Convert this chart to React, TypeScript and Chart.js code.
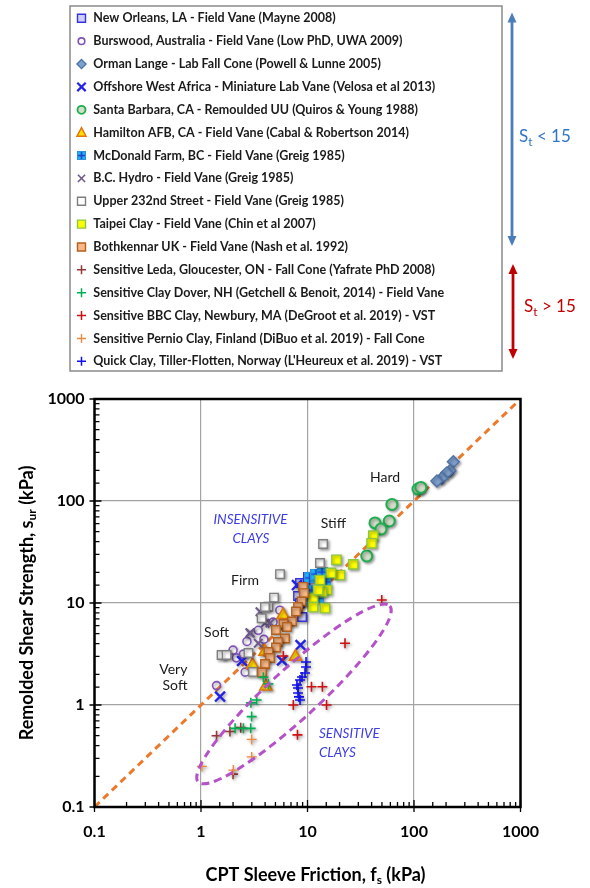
import React, { useEffect, useRef } from 'react';
import { Chart, registerables } from 'chart.js';

Chart.register(...registerables);

// ---------- tick labels ----------
const xTickValues = [0.1, 1, 10, 100, 1000];
const xTickLabels = ['0.1', '1', '10', '100', '1000'];
const yTickValues = [0.1, 1, 10, 100, 1000];
const yTickLabels = ['0.1', '1', '10', '100', '1000'];

// ---------- legend labels ----------
const seriesNames = [
  'New Orleans, LA - Field Vane (Mayne 2008)',
  'Burswood, Australia - Field Vane (Low PhD, UWA 2009)',
  'Orman Lange - Lab Fall Cone (Powell & Lunne 2005)',
  'Offshore West Africa - Miniature Lab Vane (Velosa et al 2013)',
  'Santa Barbara, CA - Remoulded UU (Quiros & Young 1988)',
  'Hamilton AFB, CA - Field Vane (Cabal & Robertson 2014)',
  'McDonald Farm, BC - Field Vane (Greig 1985)',
  'B.C. Hydro - Field Vane (Greig 1985)',
  'Upper 232nd Street - Field Vane (Greig 1985)',
  'Taipei Clay - Field Vane (Chin et al 2007)',
  'Bothkennar UK - Field Vane (Nash et al. 1992)',
  'Sensitive Leda, Gloucester, ON - Fall Cone (Yafrate PhD 2008)',
  'Sensitive Clay Dover, NH (Getchell & Benoit, 2014) - Field Vane',
  'Sensitive BBC Clay, Newbury, MA (DeGroot et al. 2019) - VST',
  'Sensitive Pernio Clay, Finland (DiBuo et al. 2019) - Fall Cone',
  "Quick Clay, Tiller-Flotten, Norway (L'Heureux et al. 2019) - VST",
];

// ---------- data: fs (kPa) and s_ur (kPa) ----------
const newOrleansFs = [8.5, 10.1, 8.15, 8.5, 8.9, 9.5, 11.5];
const newOrleansSu = [15.7, 18.0, 11.7, 10.0, 7.3, 13.4, 15.0];

const burswoodFs = [5.5, 4.75, 3.9, 3.45, 2.7, 2.0, 2.5, 2.15, 2.6, 1.4];
const burswoodSu = [8.5, 6.5, 4.4, 5.4, 4.2, 3.45, 3.15, 2.9, 2.1, 1.55];

const ormanFs = [234, 218, 203, 182, 164];
const ormanSu = [243, 198, 189, 167, 157];

const offshoreFs = [7.96, 8.6, 5.77, 2.43, 1.51];
const offshoreSu = [15.0, 3.87, 2.73, 2.7, 1.21];

const santaBarbaraFs = [109, 116, 62, 43, 58.6, 49, 36];
const santaBarbaraSu = [131, 136, 92.5, 61, 63.7, 53, 28.9];

const hamiltonFs = [5.89, 3.99, 3.05, 7.71, 4.07];
const hamiltonSu = [7.63, 3.34, 2.47, 2.98, 1.52];

const mcdonaldFs = [10.5, 12.0, 11.0, 12.6, 10.1, 14.9, 13.7];
const mcdonaldSu = [17.6, 19.2, 13.4, 11.2, 10.7, 16.1, 20.1];

const bcHydroFs = [3.58, 2.88, 2.9, 3.45, 3.99, 4.45];
const bcHydroSu = [8.22, 5.12, 5.05, 4.03, 6.32, 6.37];

const upper232Fs = [14.0, 13.1, 5.52, 4.85, 4.3, 3.99, 3.71, 2.79, 1.56, 1.74, 3.08];
const upper232Su = [37.9, 24.7, 19.2, 11.3, 9.2, 9.15, 7.08, 3.24, 3.09, 3.09, 2.11];

const taipeiFs = [41.5, 40, 26.9, 18.7, 20.2, 16.6, 13.1, 15.2, 13.7, 11.3, 11.3, 14.6, 12.6];
const taipeiSu = [45.7, 38.5, 23.9, 26.5, 18.8, 19.7, 16.8, 13.4, 12.8, 11.2, 9.1, 8.9, 13.4];

const bothkennarFs = [9.08, 9.27, 8.79, 8.15, 7.8, 7.15, 5.95, 6.42, 5.06, 6.15, 5.28, 5.06, 4.3, 4.45, 3.99, 3.74];
const bothkennarSu = [14.4, 12.5, 10.35, 9.14, 8.26, 6.59, 6.22, 5.82, 5.43, 4.49, 4.15, 3.66, 3.31, 2.89, 2.52, 2.08];

const ledaFs = [1.4, 1.87, 2.36, 2.0];
const ledaSu = [0.5, 0.55, 0.6, 0.21];

const doverFs = [2.94, 3.33, 2.99, 2.09, 2.5, 2.93, 3.85, 4.29];
const doverSu = [1.05, 1.12, 0.77, 0.59, 0.59, 0.59, 1.87, 1.61];

const bbcFs = [5.93, 22.5, 7.36, 10.9, 13.8, 15.1, 8.05, 49.8];
const bbcSu = [3.02, 4.03, 1.0, 1.51, 1.51, 1.0, 0.51, 10.7];

const pernioFs = [1.02, 2.01, 2.99, 2.99];
const pernioSu = [0.25, 0.23, 0.46, 0.31];

const quickClayFs = [9.69, 9.69, 9.48, 8.88, 8.51, 7.96, 8.15, 8.15, 8.32, 8.51];
const quickClaySu = [2.64, 2.36, 2.06, 1.88, 1.76, 1.57, 1.47, 1.31, 1.2, 1.12];

// 1:1 line
const oneToOneFs = [0.1, 1000];
const oneToOneSu = [0.1, 1000];

// sensitive-clay ellipse: end points of major axis (fs, s_ur)
const ellipseTipA = [59.3, 9.35];
const ellipseTipB = [0.94, 0.176];

// consistency labels
const zoneTexts = ['Hard', 'Stiff', 'Firm', 'Soft', 'Very', 'Soft'];
const zoneFs = [53.5, 17.5, 2.59, 1.4, 0.55, 0.57];
const zoneSu = [170, 59.6, 16.6, 5.16, 2.24, 1.55];

const insensitiveTexts = ['INSENSITIVE', 'CLAYS'];
const insensitiveFs = [2.92, 2.94];
const insensitiveSu = [66.2, 42.4];

const sensitiveTexts = ['SENSITIVE', 'CLAYS'];
const sensitiveFs = [12.8, 12.8];
const sensitiveSu = [0.528, 0.344];

// ---------- styles ----------
type Sty = { kind: string; r: number; fill: string; stroke: string; lw: number; lr: number; llw: number };
const styles: Sty[] = [
  { kind: 'rect', r: 6, fill: '#CFCFF7', stroke: '#3535E0', lw: 1.4, lr: 4, llw: 1.4 },
  { kind: 'circle', r: 4, fill: 'rgba(255,255,255,0)', stroke: '#8052B8', lw: 1.6, lr: 3.3, llw: 1.6 },
  { kind: 'rectRot', r: 6, fill: '#7FA1CF', stroke: '#4E73A6', lw: 1.3, lr: 4.6, llw: 1.3 },
  { kind: 'crossRot', r: 7, fill: '#2323E6', stroke: '#2323E6', lw: 2.4, lr: 4.2, llw: 2.2 },
  { kind: 'circle', r: 5.5, fill: '#D3DEC9', stroke: '#1EAE4F', lw: 2, lr: 4, llw: 1.8 },
  { kind: 'triangle', r: 7, fill: '#FFE100', stroke: '#E2760F', lw: 1.6, lr: 5, llw: 1.5 },
  { kind: 'image', r: 6, fill: '#1EB4F0', stroke: '#1F3FD0', lw: 1.2, lr: 4, llw: 1.2 },
  { kind: 'crossRot', r: 6, fill: '#6E5A8C', stroke: '#6E5A8C', lw: 2, lr: 3.6, llw: 1.6 },
  { kind: 'rect', r: 6, fill: '#FFFFFF', stroke: '#7F7F7F', lw: 1.4, lr: 4, llw: 1.4 },
  { kind: 'rect', r: 6.6, fill: '#FFFF00', stroke: '#8CC83C', lw: 1.4, lr: 4, llw: 1.4 },
  { kind: 'rect', r: 6, fill: '#F8B888', stroke: '#B4601C', lw: 1.4, lr: 4, llw: 1.4 },
  { kind: 'cross', r: 5, fill: '#953735', stroke: '#953735', lw: 1.6, lr: 4.5, llw: 1.5 },
  { kind: 'cross', r: 5, fill: '#00B050', stroke: '#00B050', lw: 1.6, lr: 4.5, llw: 1.5 },
  { kind: 'cross', r: 5, fill: '#D01010', stroke: '#D01010', lw: 1.6, lr: 4.5, llw: 1.5 },
  { kind: 'cross', r: 5, fill: '#F08A40', stroke: '#F08A40', lw: 1.4, lr: 4.5, llw: 1.4 },
  { kind: 'cross', r: 5, fill: '#1010F0', stroke: '#1010F0', lw: 1.6, lr: 4.5, llw: 1.5 },
];

const seriesFs = [newOrleansFs, burswoodFs, ormanFs, offshoreFs, santaBarbaraFs, hamiltonFs, mcdonaldFs, bcHydroFs,
  upper232Fs, taipeiFs, bothkennarFs, ledaFs, doverFs, bbcFs, pernioFs, quickClayFs];
const seriesSu = [newOrleansSu, burswoodSu, ormanSu, offshoreSu, santaBarbaraSu, hamiltonSu, mcdonaldSu, bcHydroSu,
  upper232Su, taipeiSu, bothkennarSu, ledaSu, doverSu, bbcSu, pernioSu, quickClaySu];

const FONT = 'Lato, "Open Sans", "DejaVu Sans", sans-serif';

function isMajor(v: number) {
  const l = Math.log10(v);
  return Math.abs(l - Math.round(l)) < 1e-6;
}

function makeMcdImage(size: number) {
  const c = document.createElement('canvas');
  c.width = size; c.height = size;
  const g = c.getContext('2d')!;
  g.fillStyle = '#1EB4F0';
  g.fillRect(0.5, 0.5, size - 1, size - 1);
  g.strokeStyle = '#2E8FE0';
  g.lineWidth = 1;
  g.strokeRect(0.5, 0.5, size - 1, size - 1);
  g.strokeStyle = '#1F3FD0';
  g.lineWidth = 1.6;
  g.beginPath();
  g.moveTo(size / 2, 1); g.lineTo(size / 2, size - 1);
  g.moveTo(1, size / 2); g.lineTo(size - 1, size / 2);
  g.stroke();
  return c;
}

function drawMarker(ctx: CanvasRenderingContext2D, s: Sty, x: number, y: number, img?: HTMLCanvasElement) {
  const r = s.lr;
  ctx.save();
  ctx.fillStyle = s.fill;
  ctx.strokeStyle = s.stroke;
  ctx.lineWidth = s.llw;
  ctx.beginPath();
  switch (s.kind) {
    case 'rect':
      ctx.rect(x - r, y - r, 2 * r, 2 * r); ctx.fill(); ctx.stroke(); break;
    case 'circle':
      ctx.arc(x, y, r, 0, Math.PI * 2); ctx.fill(); ctx.stroke(); break;
    case 'rectRot':
      ctx.moveTo(x, y - r); ctx.lineTo(x + r, y); ctx.lineTo(x, y + r); ctx.lineTo(x - r, y); ctx.closePath();
      ctx.fill(); ctx.stroke(); break;
    case 'triangle':
      ctx.moveTo(x, y - r); ctx.lineTo(x + r * 0.9, y + r * 0.7); ctx.lineTo(x - r * 0.9, y + r * 0.7); ctx.closePath();
      ctx.fill(); ctx.stroke(); break;
    case 'crossRot':
      ctx.moveTo(x - r, y - r); ctx.lineTo(x + r, y + r); ctx.moveTo(x + r, y - r); ctx.lineTo(x - r, y + r); ctx.stroke(); break;
    case 'cross':
      ctx.moveTo(x - r, y); ctx.lineTo(x + r, y); ctx.moveTo(x, y - r); ctx.lineTo(x, y + r); ctx.stroke(); break;
    case 'image':
      if (img) ctx.drawImage(img, x - img.width / 2, y - img.height / 2);
      break;
  }
  ctx.restore();
}

type Seg = { t: string; sub?: boolean };
function drawSegs(ctx: CanvasRenderingContext2D, segs: Seg[], x: number, y: number, font: string, subFont: string, align: 'left' | 'center', subDy: number) {
  ctx.save();
  ctx.textBaseline = 'middle';
  ctx.textAlign = 'left';
  let total = 0;
  for (const s of segs) { ctx.font = s.sub ? subFont : font; total += ctx.measureText(s.t).width; }
  let cx = align === 'center' ? x - total / 2 : x;
  for (const s of segs) {
    ctx.font = s.sub ? subFont : font;
    ctx.fillText(s.t, cx, s.sub ? y + subDy : y);
    cx += ctx.measureText(s.t).width;
  }
  ctx.restore();
}

function drawDoubleArrow(ctx: CanvasRenderingContext2D, x: number, y1: number, y2: number, color: string) {
  const head = 10, hw = 4.5;
  ctx.save();
  ctx.strokeStyle = color; ctx.fillStyle = color; ctx.lineWidth = 2.8;
  ctx.beginPath(); ctx.moveTo(x, y1 + head - 1); ctx.lineTo(x, y2 - head + 1); ctx.stroke();
  ctx.beginPath(); ctx.moveTo(x, y1); ctx.lineTo(x - hw, y1 + head); ctx.lineTo(x + hw, y1 + head); ctx.closePath(); ctx.fill();
  ctx.beginPath(); ctx.moveTo(x, y2); ctx.lineTo(x - hw, y2 - head); ctx.lineTo(x + hw, y2 - head); ctx.closePath(); ctx.fill();
  ctx.restore();
}

export default function App() {
  const ref = useRef<HTMLCanvasElement | null>(null);

  useEffect(() => {
    document.body.style.margin = '0';
    document.body.style.overflow = 'hidden';
    const canvas = ref.current!;
    const mcdImg = makeMcdImage(11);
    const mcdLegendImg = makeMcdImage(9);

    const datasets: any[] = seriesNames.map((name, i) => {
      const st = styles[i];
      return {
        label: name,
        data: seriesFs[i].map((v, j) => ({ x: v, y: seriesSu[i][j] })),
        pointStyle: st.kind === 'image' ? mcdImg : st.kind,
        pointRadius: st.r,
        pointBackgroundColor: st.fill,
        pointBorderColor: st.stroke,
        pointBorderWidth: st.lw,
        showLine: false,
        order: 20 - i,
      };
    });
    datasets.push({
      label: '1:1',
      data: oneToOneFs.map((v, j) => ({ x: v, y: oneToOneSu[j] })),
      showLine: true,
      borderColor: '#EC7A2C',
      borderWidth: 3,
      borderDash: [7, 5],
      pointRadius: 0,
      order: 100,
      isLine: true,
    });

    const shadowPlugin = {
      id: 'markerShadow',
      beforeDatasetDraw(chart: any, args: any) {
        const ds = chart.data.datasets[args.index];
        if (ds.isLine) return;
        const ctx = chart.ctx;
        ctx.save();
        ctx.shadowColor = 'rgba(0,0,0,0.38)';
        ctx.shadowBlur = 3;
        ctx.shadowOffsetX = 1.5;
        ctx.shadowOffsetY = 1.5;
      },
      afterDatasetDraw(chart: any, args: any) {
        const ds = chart.data.datasets[args.index];
        if (ds.isLine) return;
        chart.ctx.restore();
      },
    };

    const decorPlugin = {
      id: 'decor',
      afterDatasetsDraw(chart: any) {
        const ctx: CanvasRenderingContext2D = chart.ctx;
        const xs = chart.scales.x, ys = chart.scales.y;
        // ellipse
        const ax = xs.getPixelForValue(ellipseTipA[0]), ay = ys.getPixelForValue(ellipseTipA[1]);
        const bx = xs.getPixelForValue(ellipseTipB[0]), by = ys.getPixelForValue(ellipseTipB[1]);
        const cx = (ax + bx) / 2, cy = (ay + by) / 2;
        const a = Math.hypot(ax - bx, ay - by) / 2;
        const ang = Math.atan2(ay - by, ax - bx);
        ctx.save();
        ctx.strokeStyle = '#B552C8';
        ctx.lineWidth = 3;
        ctx.setLineDash([8, 5]);
        ctx.beginPath();
        ctx.ellipse(cx, cy, a, a * 0.19, ang, 0, Math.PI * 2);
        ctx.stroke();
        ctx.restore();

        // zone labels
        ctx.save();
        ctx.fillStyle = '#1A1A1A';
        ctx.font = `14px ${FONT}`;
        ctx.textAlign = 'center';
        ctx.textBaseline = 'middle';
        zoneTexts.forEach((t, i) => {
          ctx.fillText(t, xs.getPixelForValue(zoneFs[i]), ys.getPixelForValue(zoneSu[i]));
        });
        ctx.fillStyle = '#3B3BEA';
        ctx.font = `italic 13.5px ${FONT}`;
        insensitiveTexts.forEach((t, i) => {
          ctx.fillText(t, xs.getPixelForValue(insensitiveFs[i]), ys.getPixelForValue(insensitiveSu[i]));
        });
        ctx.textAlign = 'left';
        sensitiveTexts.forEach((t, i) => {
          ctx.fillText(t, xs.getPixelForValue(sensitiveFs[i]), ys.getPixelForValue(sensitiveSu[i]));
        });
        ctx.restore();
      },
      afterDraw(chart: any) {
        const ctx: CanvasRenderingContext2D = chart.ctx;
        const xs = chart.scales.x, ys = chart.scales.y;
        const { left, right, top, bottom } = chart.chartArea;
        ctx.save();
        // tick marks
        ctx.strokeStyle = '#000';
        ctx.lineWidth = 1.3;
        ctx.beginPath();
        xs.ticks.forEach((t: any) => {
          const px = xs.getPixelForValue(t.value);
          if (isMajor(t.value)) { ctx.moveTo(px, bottom + 5); ctx.lineTo(px, bottom - 7); }
          else { ctx.moveTo(px, bottom); ctx.lineTo(px, bottom - 5); }
        });
        ys.ticks.forEach((t: any) => {
          const py = ys.getPixelForValue(t.value);
          if (isMajor(t.value)) { ctx.moveTo(left - 5, py); ctx.lineTo(left + 7, py); }
          else { ctx.moveTo(left, py); ctx.lineTo(left + 5, py); }
        });
        ctx.stroke();
        // frame
        ctx.lineWidth = 2.5;
        ctx.strokeRect(left, top, right - left, bottom - top);

        // axis titles
        ctx.fillStyle = '#000';
        drawSegs(ctx, [{ t: 'CPT Sleeve Friction, f' }, { t: 's', sub: true }, { t: ' (kPa)' }], 315.5, 875,
          `bold 18px ${FONT}`, `bold 12px ${FONT}`, 'center', 5);
        ctx.save();
        ctx.translate(27, 603);
        ctx.rotate(-Math.PI / 2);
        drawSegs(ctx, [{ t: 'Remolded Shear Strength, s' }, { t: 'ur', sub: true }, { t: ' (kPa)' }], 0, 0,
          `bold 18px ${FONT}`, `bold 12px ${FONT}`, 'center', 5);
        ctx.restore();

        // legend box
        ctx.strokeStyle = '#8A8A8A';
        ctx.lineWidth = 1.5;
        ctx.strokeRect(70, 6, 432, 365);
        ctx.textBaseline = 'middle';
        ctx.textAlign = 'left';
        ctx.font = `bold 12.5px ${FONT}`;
        seriesNames.forEach((name, i) => {
          const y = 18.3 + i * 22.87;
          drawMarker(ctx, styles[i], 81.5, y, mcdLegendImg);
          ctx.fillStyle = '#1A1A1A';
          ctx.fillText(name, 93.3, y);
        });

        // sensitivity arrows
        drawDoubleArrow(ctx, 512, 12.5, 246, '#4A7EBB');
        drawDoubleArrow(ctx, 513, 264, 359, '#C00000');
        ctx.fillStyle = '#2E75C6';
        drawSegs(ctx, [{ t: 'S' }, { t: 't', sub: true }, { t: ' < 15' }], 519, 137,
          `17px ${FONT}`, `12px ${FONT}`, 'left', 5);
        ctx.fillStyle = '#C00000';
        drawSegs(ctx, [{ t: 'S' }, { t: 't', sub: true }, { t: ' > 15' }], 524, 307,
          `17px ${FONT}`, `12px ${FONT}`, 'left', 5);
        ctx.restore();
      },
    };

    const tickFont = { family: FONT, size: 16, weight: 'bold' as const };
    const labelFor = (vals: number[], labels: string[]) => (v: any) => {
      const n = Number(v);
      const idx = vals.findIndex((t) => Math.abs(Math.log10(t) - Math.log10(n)) < 1e-6);
      return idx >= 0 ? labels[idx] : '';
    };

    const chart = new Chart(canvas, {
      type: 'scatter',
      data: { datasets },
      options: {
        responsive: false,
        animation: false,
        devicePixelRatio: 1,
        layout: { padding: { top: 399, right: 69.5, left: 0, bottom: 0 } },
        plugins: { legend: { display: false }, tooltip: { enabled: false } },
        scales: {
          x: {
            type: 'logarithmic',
            min: 0.1,
            max: 1000,
            afterFit: (s: any) => { s.height = 81; },
            border: { display: false },
            grid: {
              drawTicks: false,
              lineWidth: 1.2,
              color: (c: any) => (c.tick && isMajor(c.tick.value) ? '#A3A3A3' : 'rgba(0,0,0,0)'),
            },
            ticks: {
              autoSkip: false,
              maxRotation: 0,
              padding: 15,
              color: '#000',
              font: tickFont,
              callback: labelFor(xTickValues, xTickLabels),
            },
          },
          y: {
            type: 'logarithmic',
            min: 0.1,
            max: 1000,
            afterFit: (s: any) => { s.width = 94.5; },
            border: { display: false },
            grid: {
              drawTicks: false,
              lineWidth: 1.2,
              color: (c: any) => (c.tick && isMajor(c.tick.value) ? '#A3A3A3' : 'rgba(0,0,0,0)'),
            },
            ticks: {
              autoSkip: false,
              padding: 10,
              color: '#000',
              font: tickFont,
              callback: labelFor(yTickValues, yTickLabels),
            },
          },
        },
      } as any,
      plugins: [shadowPlugin, decorPlugin],
    });
    return () => chart.destroy();
  }, []);

  return (
    <div style={{ width: 590, height: 888 }}>
      <canvas ref={ref} width={590} height={888} style={{ width: 590, height: 888, display: 'block' }} />
    </div>
  );
}
